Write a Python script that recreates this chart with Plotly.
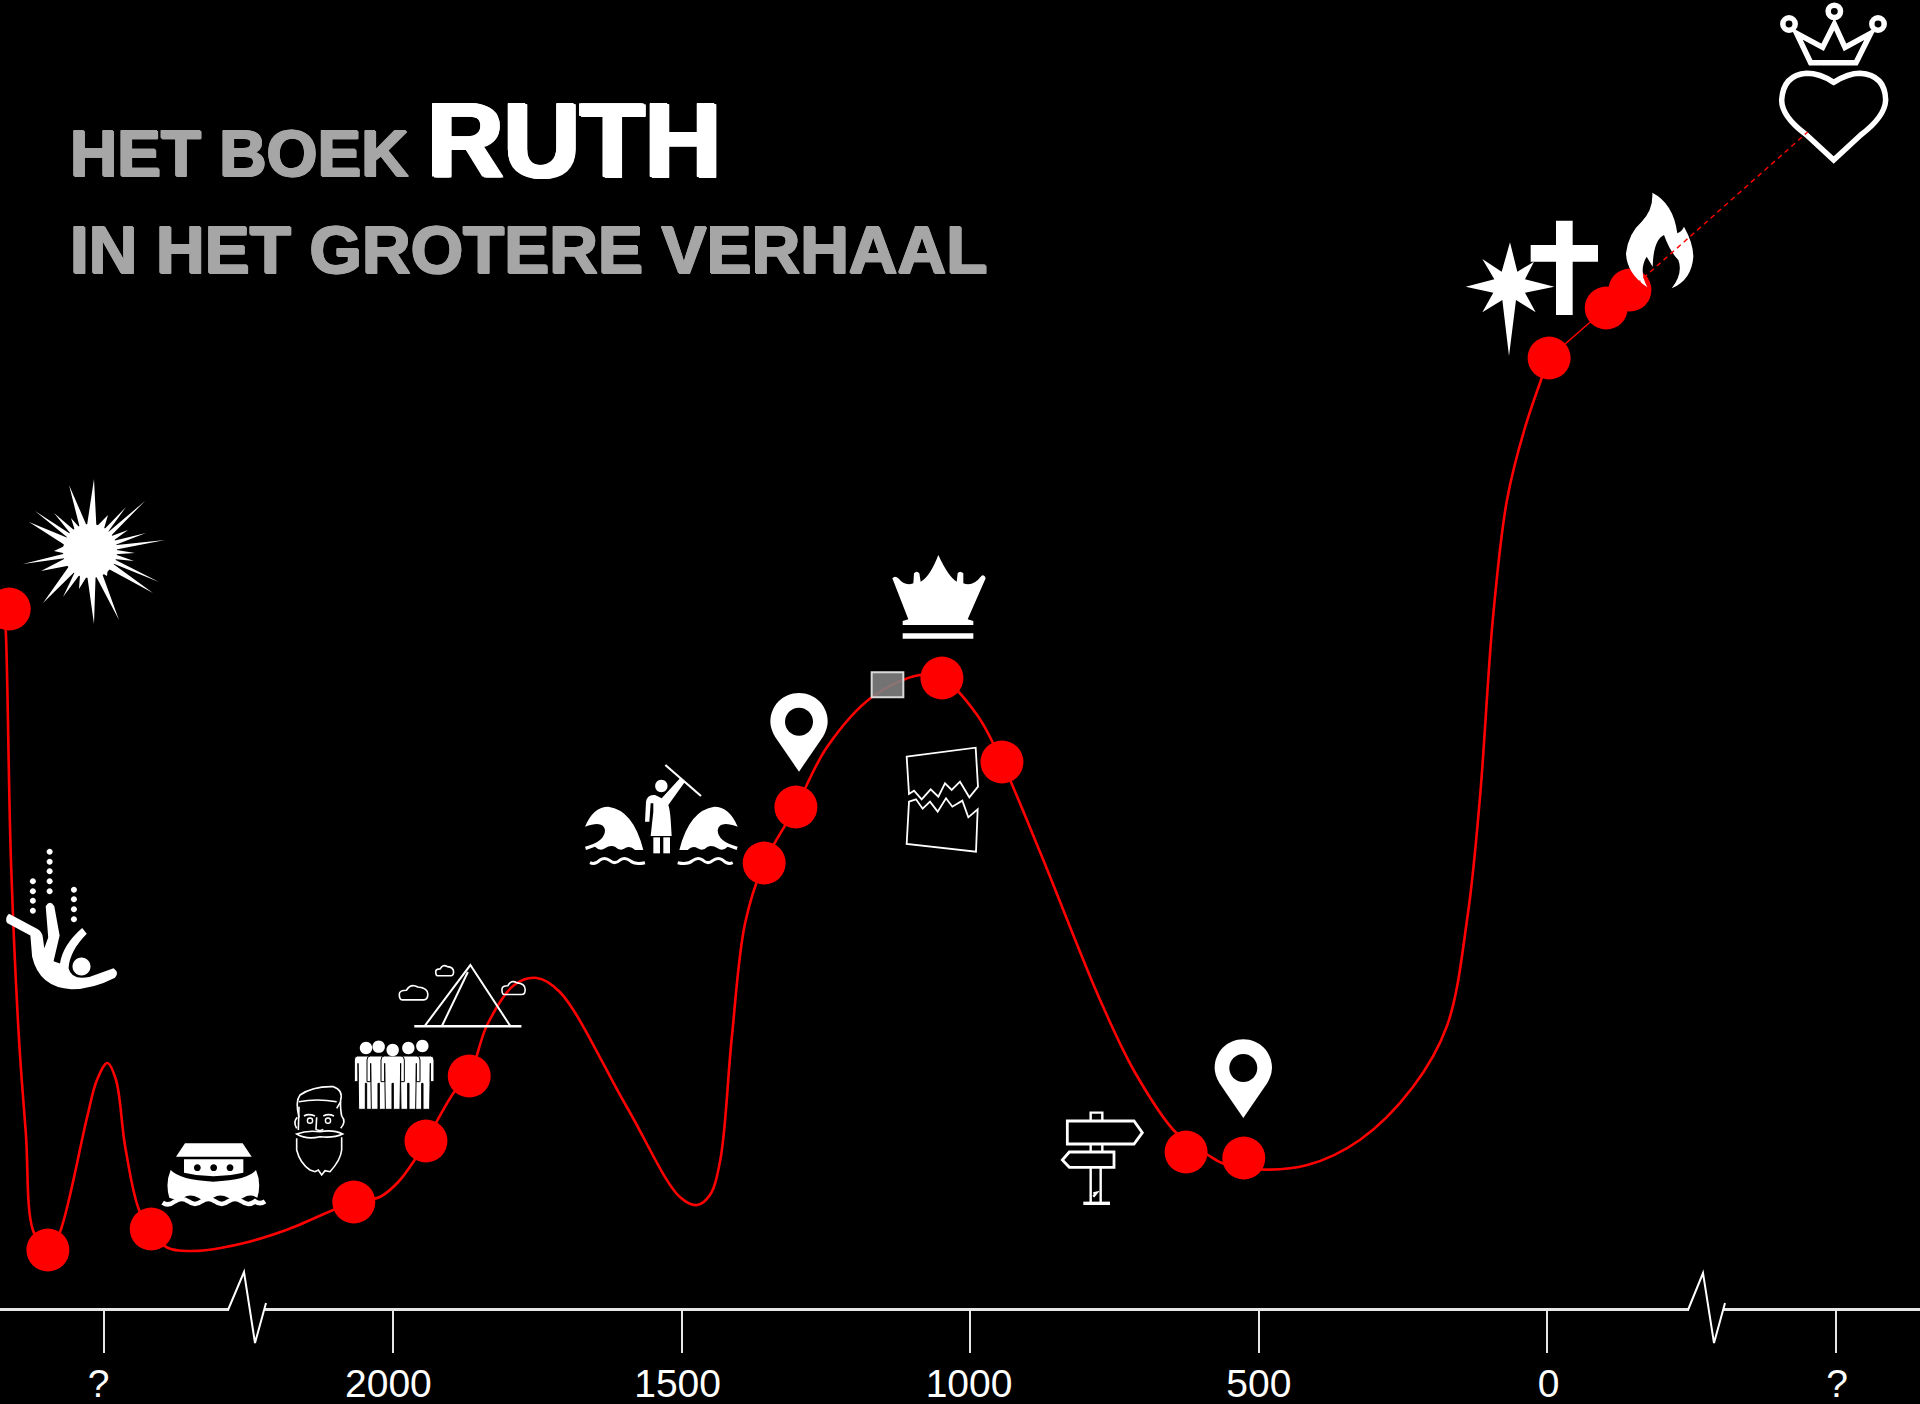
import re, math
import plotly.graph_objects as go

# ---------- data ----------
tick_years = [2500, 2000, 1500, 1000, 500, 0, -500]
label_years = [2510, 2008, 1507, 1002, 500, -2, -502]
tick_labels = ["?", "2000", "1500", "1000", "500", "0", "?"]

curve_years = [2674, 2671, 2662, 2648, 2636, 2624, 2598, 2577, 2530, 2513, 2495, 2480, 2464, 2440, 2419,
               2393, 2345, 2265, 2185, 2068, 2023, 1991, 1965, 1943, 1894, 1868, 1837,
               1790, 1751, 1711, 1595, 1503, 1473, 1451, 1433, 1413, 1390,
               1357, 1302, 1248, 1170, 1087, 1049, 988, 945, 879, 775, 714, 643,
               588, 564, 515, 416, 325, 233, 174, 138, 117, 94, 70, 39, -3]
curve_height = [794, 773, 543, 364, 269, 174, 150, 172, 287, 324, 341, 324, 257, 194, 175,
                157, 153, 160, 174, 202, 207, 222, 242, 263, 312, 328, 379,
                419, 426, 412, 297, 207, 199, 209, 244, 367, 481,
                541, 597, 657, 707, 729, 726, 689, 642, 552, 404, 331, 271,
                249, 241, 235, 239, 264, 317, 378, 489, 605, 788, 904, 976, 1046]

link_years = [-3, -102, -143]
link_height = [1046, 1096, 1114]
future_years = [-143, -451]
future_height = [1114, 1272]

event_years = [2665, 2598, 2419, 2068, 1943, 1868, 1357, 1302, 1049, 945, 626, 526, -3, -102, -143]
event_height = [795, 154, 175, 202, 263, 328, 541, 597, 726, 642, 252, 246, 1046, 1096, 1114]

WHITE = "#ffffff"
RED = "#ff0000"
GREY = "#a6a6a6"

# ---------- icon helpers (pictograms, in page pixels via a hidden overlay axis) ----------
def crop(path, x0, y0, sx=3.0, sy=3.0):
    toks = re.findall(r"[MLCQZ]|-?\d+\.?\d*", path)
    out, i = [], 0
    for t in toks:
        if t in "MLCQZ":
            out.append(t)
        else:
            v = float(t)
            out.append(f"{(x0 + v / sx) if i % 2 == 0 else (y0 + v / sy):.2f}")
            i += 1
    return " ".join(out)

def mirror(path, axis):
    toks = re.findall(r"[MLCQZ]|-?\d+\.?\d*", path)
    out, i = [], 0
    for t in toks:
        if t in "MLCQZ":
            out.append(t)
        else:
            v = float(t)
            out.append(str(2 * axis - v) if i % 2 == 0 else t)
            i += 1
    return " ".join(out)

def circle(cx, cy, r):
    k = 0.5523 * r
    return (f"M {cx-r} {cy} C {cx-r} {cy-k} {cx-k} {cy-r} {cx} {cy-r} "
            f"C {cx+k} {cy-r} {cx+r} {cy-k} {cx+r} {cy} "
            f"C {cx+r} {cy+k} {cx+k} {cy+r} {cx} {cy+r} "
            f"C {cx-k} {cy+r} {cx-r} {cy+k} {cx-r} {cy} Z")

shapes = []
def fill(path, color=WHITE, edge=None, w=0):
    shapes.append(dict(type="path", path=path, xref="x2", yref="y2", fillcolor=color, layer="above",
                       line=dict(color=edge or color, width=w)))
def stroke(path, w=2, color=WHITE):
    shapes.append(dict(type="path", path=path, xref="x2", yref="y2", layer="above",
                       line=dict(color=color, width=w)))

Z1 = dict(x0=0, y0=440, sx=2.8, sy=2.613)
Z3 = dict(x0=560, y0=540)
Z5 = dict(x0=1440, y0=0)
Z7 = dict(x0=1040, y0=1020)
Z8 = dict(x0=150, y0=1030)

# burst
bx, by = 90, 551
tips = [(94,479),(69,485),(35,511),(29,522),(54,513),(71,518),(23,564),(41,571),(54,551),(43,603),
        (63,597),(79,589),(94,624),(119,620),(107,576),(153,593),(159,582),(134,561),(135,553),
        (165,540),(146,533),(128,530),(145,501),(126,507),(108,515)]
tips.sort(key=lambda p: math.atan2(p[1]-by, p[0]-bx))
pts = []
for i, p in enumerate(tips):
    q = tips[(i+1) % len(tips)]
    a0 = math.atan2(p[1]-by, p[0]-bx)
    a1 = math.atan2(q[1]-by, q[0]-bx)
    if a1 < a0:
        a1 += 2*math.pi
    am = (a0+a1)/2
    pts.append(p)
    pts.append((bx+25*math.cos(am), by+25*math.sin(am)))
fill("M " + " L ".join(f"{x:.1f} {y:.1f}" for x, y in pts) + " Z")
fill(circle(bx, by, 27))

# falling figure
fill(crop("M 25 1238 L 105 1278 Q 118 1285 120 1300 L 124 1328 L 135 1300 L 128 1218 Q 140 1200 152 1218 "
          "L 167 1295 L 150 1362 L 168 1368 Q 175 1320 230 1275 L 243 1290 Q 195 1335 192 1380 Q 200 1412 250 1403 "
          "L 318 1380 Q 335 1392 322 1405 Q 260 1435 200 1435 Q 110 1430 90 1350 L 85 1295 L 20 1262 Q 12 1250 25 1238 Z", **Z1))
fill(circle(81.5, 966.5, 9))
for zx, zys in [(139, [1076,1102,1127,1153,1179]), (92, [1153,1179,1204,1230]), (207, [1175,1200,1226,1252])]:
    for zy in zys:
        fill(circle(zx/2.8, 440+zy/2.613, 3))

# ark
fill(crop("M 105 340 L 278 340 L 305 380 L 78 380 Z", **Z8))
fill(crop("M 102 388 L 280 388 L 280 428 Q 190 450 102 428 Z", **Z8))
fill(crop("M 62 420 Q 90 450 190 455 Q 295 450 318 420 Q 335 460 322 503 Q 300 490 280 503 Q 255 518 235 503 "
          "Q 210 490 190 503 Q 165 518 145 503 Q 120 490 100 503 Q 80 512 58 503 Q 45 460 62 420 Z", **Z8))
for zx in (142, 191, 240):
    fill(circle(150+zx/3, 1030+413/3, 3.4), color="#000000")
stroke(crop("M 38 518 Q 55 530 75 514 Q 95 500 115 514 Q 135 530 155 514 Q 175 500 195 514 Q 215 530 235 514 "
            "Q 255 500 275 514 Q 295 530 315 514 Q 330 525 345 514", **Z8), 4.5)

# bearded head
for p in ["M 447 262 Q 435 215 450 195 Q 490 168 550 170 Q 580 180 572 210 Q 570 230 575 258",
          "M 447 215 Q 500 205 560 215", "M 572 215 L 560 235", "M 447 230 L 445 300",
          "M 442 262 Q 428 275 440 295", "M 575 258 Q 590 275 572 295",
          "M 462 258 Q 475 250 495 258", "M 520 258 Q 535 250 552 258",
          "M 500 262 L 498 298 Q 510 305 520 298",
          "M 440 312 Q 470 300 510 305 Q 550 298 578 312 Q 550 325 510 320 Q 470 330 440 312 Z",
          "M 440 325 L 440 360 Q 450 400 480 420 L 495 425 L 505 420 L 515 435 L 525 422 L 540 425 Q 572 390 575 360 L 575 322"]:
    stroke(crop(p, **Z8), 1.6)
for zx in (480, 534):
    stroke(circle(150+zx/3, 1030+272/3, 2.6), 1.4)

# group of people
def person(c):
    t, b, a = 78, 238, 155
    return (f"M {c-25} {t} L {c+25} {t} Q {c+35} {t} {c+35} {t+12} L {c+35} {a} L {c+24} {a} L {c+24} {t+22} "
            f"L {c+22} {b} L {c+2} {b} L {c+2} {a+5} L {c-2} {a+5} L {c-2} {b} L {c-22} {b} L {c-24} {t+22} "
            f"L {c-24} {a} L {c-35} {a} L {c-35} {t+12} Q {c-35} {t} {c-25} {t} Z")
for zx, zy in [(648,54),(817,48),(686,50),(775,54),(728,60)]:
    fill(crop(person(zx), **Z8), edge="#000000", w=1)
    fill(circle(150+zx/3, 1030+zy/3, 6.2))

# mountain and clouds
stroke(crop("M 1190 1530 L 1317 1372 L 1428 1530", **Z1), 2)
stroke(crop("M 1238 1530 L 1310 1390", **Z1), 2)
stroke(crop("M 1160 1532 L 1460 1532", **Z1), 2.4)
def cloud(cx, cy, w, h):
    return (f"M {cx-w*.4} {cy+h*.5} Q {cx-w*.5} {cy+h*.5} {cx-w*.5} {cy+h*.15} Q {cx-w*.5} {cy-h*.1} {cx-w*.25} {cy-h*.1} "
            f"Q {cx-w*.1} {cy-h*.55} {cx+w*.15} {cy-h*.3} Q {cx+w*.5} {cy-h*.25} {cx+w*.5} {cy+h*.15} "
            f"Q {cx+w*.5} {cy+h*.5} {cx+w*.35} {cy+h*.5} Z")
for cl in [(1158,1442,80,42),(1245,1385,50,30),(1438,1430,65,38)]:
    stroke(crop(cloud(*cl), **Z1), 1.6)

# waves and staff figure
wave = ("M 75 860 Q 100 800 145 800 Q 220 810 250 930 L 225 930 Q 210 915 195 925 Q 180 935 165 920 Q 150 915 135 925 "
        "Q 120 935 105 920 Q 90 925 78 930 L 75 920 Q 135 905 135 870 Q 130 840 75 860 Z")
ripple = "M 90 968 Q 105 975 120 960 Q 135 950 150 962 Q 165 975 180 960 Q 195 950 210 962 Q 225 975 255 968"
for p in (wave, mirror(wave, 304)):
    fill(crop(p, **Z3))
for p in (ripple, mirror(ripple, 304)):
    stroke(crop(p, **Z3), 3)
fill(circle(560+304/3, 540+738/3, 6.2))
fill(crop("M 272 888 L 335 888 L 332 840 Q 330 810 325 795 L 375 725 L 360 715 L 305 775 L 285 765 Q 262 762 258 785 "
          "L 255 845 L 268 845 L 272 790 L 280 790 L 280 815 Z", **Z3))
fill(crop("M 280 892 L 300 892 L 300 940 L 280 940 Z", **Z3))
fill(crop("M 310 892 L 330 892 L 330 940 L 310 940 Z", **Z3))
stroke(crop("M 316 675 L 423 768", **Z3), 2.2)

# map pins
PIN = ("M 717 695 L 645 590 Q 631 565 631 545 C 631 497 669 459 717 459 C 765 459 803 497 803 545 "
       "Q 803 565 789 590 Z")
for x0, y0 in [(560, 540), (1004.3, 886.3)]:
    fill(crop(PIN, x0, y0))
    fill(circle(x0+717/3, y0+545/3, 14), color="#000000")

# crown
fill(crop("M 997 115 Q 1005 105 1015 115 Q 1035 140 1060 130 L 1062 100 Q 1070 90 1078 100 L 1082 125 Q 1110 110 1135 45 "
          "Q 1165 110 1190 125 L 1193 100 Q 1200 90 1210 100 L 1210 130 Q 1240 140 1262 110 Q 1272 100 1277 115 "
          "L 1223 238 L 1240 243 L 1240 255 L 1028 255 L 1028 243 L 1045 238 Z", **Z3))
fill(crop("M 1028 280 L 1240 280 L 1240 296 L 1028 296 Z", **Z3))

# grey box on the curve
shapes.append(dict(type="path", path=crop("M 935 397 L 1030 397 L 1030 472 L 935 472 Z", **Z3), xref="x2", yref="y2",
                   layer="above", fillcolor="rgba(128,128,128,0.9)", line=dict(color="#d9d9d9", width=2)))

# torn tablet
stroke(crop("M 1040 650 L 1247 623 L 1254 740 L 1228 772 L 1200 725 L 1175 750 L 1155 730 L 1135 770 L 1112 748 "
            "L 1085 778 L 1062 752 L 1047 762 Z", **Z3), 1.8)
stroke(crop("M 1047 785 L 1068 778 L 1088 806 L 1110 785 L 1133 815 L 1158 775 L 1177 800 L 1207 782 L 1225 832 "
            "L 1253 808 L 1248 935 L 1040 912 Z", **Z3), 1.8)

# signpost
stroke(crop("M 82 303 L 282 303 L 307 338 L 282 372 L 82 372 Z", **Z7), 2.8)
stroke(crop("M 88 396 L 222 396 L 222 442 L 88 442 L 67 420 Z", **Z7), 2.8)
for p in ["M 152 303 L 152 278 L 187 278 L 187 303", "M 152 372 L 152 396", "M 187 372 L 187 396",
          "M 152 442 L 152 548", "M 182 442 L 182 548", "M 160 520 L 170 518 L 160 530"]:
    stroke(crop(p, **Z7), 2.4)
stroke(crop("M 130 550 L 210 550", **Z7), 3.4)

# star, cross, flame
fill(crop("M 348 662 L 398 662 L 398 735 L 474 735 L 474 785 L 398 785 L 398 945 L 348 945 L 348 785 L 272 785 L 272 735 L 348 735 Z", **Z5))
fill(crop("M 210 727 L 232 815 L 282 785 L 255 838 L 343 860 L 255 878 L 287 937 L 228 900 L 207 1068 L 187 900 L 127 937 "
          "L 160 878 L 77 860 L 163 838 L 127 777 L 185 815 Z", **Z5))
fill(crop("M 637 578 Q 700 610 712 700 Q 725 695 732 680 Q 760 730 760 770 Q 755 840 695 865 Q 730 820 715 780 Q 690 755 672 705 "
          "Q 640 720 638 800 L 620 770 Q 595 810 622 862 Q 560 820 558 760 Q 565 700 605 665 Q 640 630 637 578 Z", **Z5))

# crowned heart
stroke(crop("M 1181 480 L 1100 405 Q 1025 350 1025 300 Q 1030 225 1100 220 Q 1140 220 1181 247 Q 1225 220 1260 220 "
            "Q 1335 225 1337 300 Q 1335 350 1262 405 Z", **Z5), 5.5)
stroke(crop("M 1070 100 L 1148 142 L 1183 72 L 1215 142 L 1292 100 L 1248 188 L 1112 188 Z", **Z5), 5.5)
for zx, zy in [(1047,72),(1183,34),(1314,72)]:
    stroke(circle(1440+zx/3, zy/3, 6.2), 5.5)

# dashed line towards the future, on top of the flame
shapes.append(dict(type="line", xref="x", yref="y", x0=future_years[0], y0=future_height[0],
                   x1=future_years[1], y1=future_height[1], layer="above",
                   line=dict(color=RED, width=1.4, dash="5px,4px")))

# axis breaks
for gap_l, gap_r, zig in [(229, 265, "M 228 1310 L 244 1272 L 255 1343 L 266 1303"),
                          (1689, 1724, "M 1688 1310 L 1703 1273 L 1714 1343 L 1725 1303")]:
    shapes.append(dict(type="rect", xref="x2", yref="y2", x0=gap_l, x1=gap_r, y0=1304, y1=1314, layer="above",
                       fillcolor="#000000", line=dict(width=0)))
    stroke(zig, 2)

# ---------- figure ----------
fig = go.Figure()
fig.add_trace(go.Scatter(x=curve_years, y=curve_height, mode="lines", line=dict(color=RED, width=2.6, shape="spline", smoothing=1.0),
                         hoverinfo="skip", showlegend=False))
fig.add_trace(go.Scatter(x=link_years, y=link_height, mode="lines", line=dict(color=RED, width=1.5),
                         hoverinfo="skip", showlegend=False))
fig.add_trace(go.Scatter(x=event_years, y=event_height, mode="markers", marker=dict(color=RED, size=43, line=dict(width=0)),
                         cliponaxis=True, hoverinfo="skip", showlegend=False))
fig.add_trace(go.Scatter(x=[None], y=[None], xaxis="x2", yaxis="y2", mode="lines", showlegend=False))

def label(txt, x, y, size, color, t=1):
    return dict(text=f"<b>{txt}</b>", x=x, y=y, xref="x2", yref="y2", xanchor="left", yanchor="bottom", showarrow=False,
                borderpad=0, borderwidth=0,
                font=dict(family="Liberation Sans", size=size, color=color,
                          shadow=f"{t}px 0 0 {color}, -{t}px 0 0 {color}, 0 1px 0 {color}, 0 -1px 0 {color}, "
                                 f"{t}px 1px 0 {color}, -{t}px -1px 0 {color}"))

fig.update_layout(
    width=1920, height=1404, margin=dict(l=0, r=0, t=0, b=0, autoexpand=False),
    paper_bgcolor="#000000", plot_bgcolor="#000000", showlegend=False,
    font=dict(family="Liberation Sans", color=WHITE),
    xaxis=dict(range=[2681, -645.6], domain=[0, 1], anchor="free", position=1-1309/1404,
               tickmode="array", tickvals=label_years, ticktext=tick_labels, automargin=False,
               showline=True, linecolor="#e6e6e6", linewidth=2.5, mirror=False,
               ticks="", minor=dict(tickmode="array", tickvals=tick_years, ticks="outside", ticklen=42,
                                    tickwidth=2, tickcolor="#e6e6e6", showgrid=False),
               tickfont=dict(family="Liberation Sans", size=39, color=WHITE),
               ticklabelstandoff=39, showgrid=False, zeroline=False, layer="below traces"),
    yaxis=dict(range=[0, 1404], domain=[0, 1], visible=False, showgrid=False, zeroline=False),
    xaxis2=dict(range=[0, 1920], overlaying="x", visible=False, showgrid=False, zeroline=False),
    yaxis2=dict(range=[1404, 0], overlaying="y", visible=False, showgrid=False, zeroline=False),
    shapes=shapes,
    annotations=[label("HET BOEK", 70, 190, 65.5, GREY), label("RUTH", 427, 199, 106, WHITE, 2),
                 label("IN HET GROTERE VERHAAL", 70, 287, 67.4, GREY)],
)
fig.write_html("out.html", config=dict(displayModeBar=False),
               post_script="document.body.style.margin='0';document.body.style.background='#000';document.documentElement.style.overflow='hidden';")
